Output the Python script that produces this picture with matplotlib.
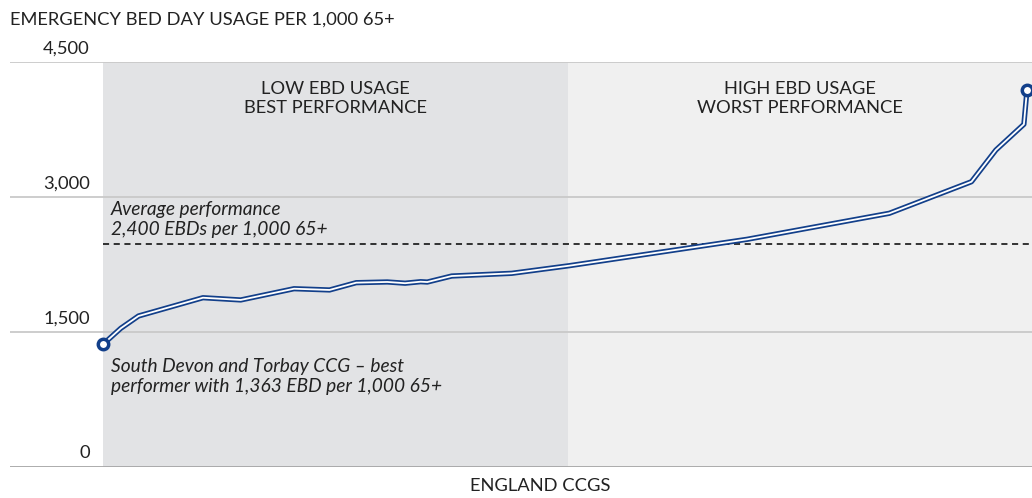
import matplotlib
matplotlib.use("Agg")
import matplotlib.pyplot as plt

plt.rcParams['font.family'] = ['Lato', 'DejaVu Sans']

# CCG rank (1 = lowest usage) and emergency bed days per 1,000 65+
rank = [1, 5, 9, 23.5, 32, 44, 52, 58, 65, 69, 72.5, 74, 79.5, 93, 106,
        146, 178, 196.5, 202, 208.3, 209]
ebd = [1363, 1541, 1678, 1881, 1856, 1981, 1967, 2048, 2056, 2042, 2059,
       2055, 2122, 2152, 2237, 2530, 2819, 3170, 3522, 3808, 4189]
avg_line = 2480
yticks = [0, 1500, 3000, 4500]
ytick_labels = ['0', '1,500', '3,000', '4,500']

navy = '#123f8a'
ink = '#222222'
fs = 13.2
W, H = 1032, 498
fig = plt.figure(figsize=(W / 100, H / 100), dpi=100)
ax = fig.add_axes([10 / W, (H - 467) / H, 1 - 10 / W, (467 - 62) / H])

px = (rank[-1] - rank[0]) / 924          # data units per pixel
x0 = rank[0] - 93 * px
x1 = rank[-1] + 5 * px
mid = rank[0] + 465 * px
ax.set_xlim(x0, x1)
ax.set_ylim(0, 4500)

ax.axvspan(rank[0], mid, color='#e2e3e5', zorder=0, lw=0)
ax.axvspan(mid, x1, color='#f0f0f0', zorder=0, lw=0)

for t, lab in zip(yticks, ytick_labels):
    ax.axhline(t, color='#a6a6a6' if t == 0 else '#c9c9c9', lw=1.3, zorder=1)
    ax.annotate(lab, xy=(80 / 1022, t), xycoords=('axes fraction', 'data'),
                xytext=(0, 4), textcoords='offset points',
                ha='right', va='bottom', fontsize=fs, color=ink)

ax.hlines(avg_line, rank[0], x1, colors='black', linestyles=(0, (4, 3)),
          lw=1.1, zorder=2)

ax.plot(rank, ebd, color=navy, lw=3.8, solid_capstyle='round',
        solid_joinstyle='round', zorder=3)
ax.plot(rank, ebd, color='white', lw=1.3, solid_joinstyle='round', zorder=4)
ax.plot([rank[0], rank[-1]], [ebd[0], ebd[-1]], 'o', ms=7.5, mfc='white',
        mec=navy, mew=2.5, zorder=5)

ax.text((rank[0] + mid) / 2, 4290, 'LOW EBD USAGE\nBEST PERFORMANCE',
        ha='center', va='top', fontsize=fs, color=ink, linespacing=1.25)
ax.text((mid + x1) / 2, 4290, 'HIGH EBD USAGE\nWORST PERFORMANCE',
        ha='center', va='top', fontsize=fs, color=ink, linespacing=1.25)

ax.text(rank[0] + 8 * px, avg_line + 60,
        'Average performance\n2,400 EBDs per 1,000 65+',
        ha='left', va='bottom', fontsize=13.8, style='italic',
        color=ink, linespacing=1.25)
ax.text(rank[0] + 8 * px, ebd[0] - 150,
        'South Devon and Torbay CCG \u2013 best\nperformer with 1,363 EBD per 1,000 65+',
        ha='left', va='top', fontsize=13.8, style='italic',
        color=ink, linespacing=1.25)

for s in ax.spines.values():
    s.set_visible(False)
ax.set_xticks([])
ax.set_yticks([])

fig.text(10 / W, 1 - 20 / H, 'EMERGENCY BED DAY USAGE PER 1,000 65+',
         ha='left', va='center', fontsize=fs, color=ink)
fig.text(540 / W, 1 - 486 / H, 'ENGLAND CCGS',
         ha='center', va='center', fontsize=fs, color=ink)

fig.savefig('out.png', dpi=100, facecolor='white')
